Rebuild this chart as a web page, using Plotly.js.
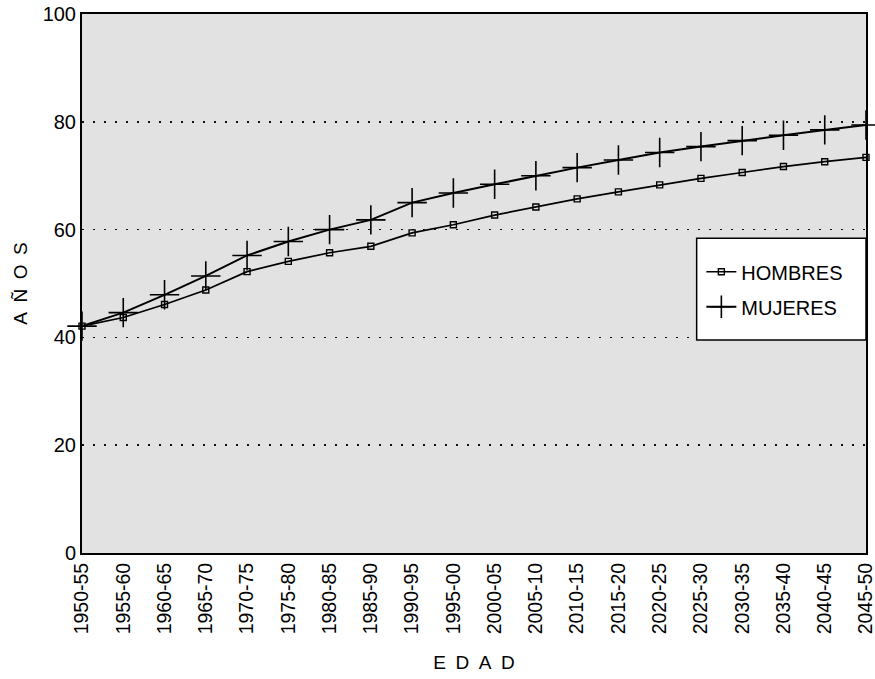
<!DOCTYPE html>
<html>
<head>
<meta charset="utf-8">
<script src="https://cdn.plot.ly/plotly-3.0.1.min.js"></script>
<style>html,body{margin:0;padding:0;background:#fff;}#chart{width:875px;height:679px;}</style>
</head>
<body>
<div id="chart"></div>
<script>
const periods = ["1950-55","1955-60","1960-65","1965-70","1970-75","1975-80","1980-85","1985-90","1990-95","1995-00","2000-05","2005-10","2010-15","2015-20","2020-25","2025-30","2030-35","2035-40","2040-45","2045-50"];
const hombres = [42.1,43.7,46.1,48.8,52.2,54.1,55.7,56.9,59.4,60.9,62.7,64.2,65.7,67.0,68.3,69.5,70.6,71.7,72.6,73.4];
const mujeres = [42.1,44.6,47.9,51.4,55.2,57.8,60.0,61.8,65.0,66.8,68.4,70.0,71.5,72.9,74.3,75.4,76.5,77.5,78.5,79.4];
const yTicks = [0,20,40,60,80,100];

const traces = [
  {x: periods, y: hombres, name: "HOMBRES", type: "scatter", mode: "lines+markers",
   legendgroup: "h",
   line: {color: "#000", width: 1.7},
   marker: {symbol: "square-open", size: 6, color: "#000", line: {width: 1.4, color: "#000"}},
   cliponaxis: false},
  {x: periods, y: mujeres, name: "MUJERES", type: "scatter", mode: "lines+markers",
   legendgroup: "m",
   line: {color: "#000", width: 2},
   marker: {symbol: "cross-thin-open", size: 21, color: "#000", line: {width: 1.6, color: "#000"}},
   cliponaxis: false}
];

const layout = {
  width: 875, height: 679,
  margin: {l: 82, r: 9, t: 14, b: 126},
  paper_bgcolor: "#fff",
  plot_bgcolor: "#e2e2e2",
  font: {family: "Liberation Sans, Arial, sans-serif", color: "#000"},
  showlegend: true,
  legend: {x: 0.79, y: 0.558, xanchor: "left", yanchor: "top",
           bgcolor: "rgba(0,0,0,0)", borderwidth: 0,
           font: {size: 20, color: "#000"}, itemwidth: 30, tracegroupgap: 6},
  shapes: [
    {type: "rect", xref: "paper", yref: "paper", x0: 0.784, x1: 1.0, y0: 0.395, y1: 0.584,
     fillcolor: "#fff", line: {color: "#000", width: 1.5}, layer: "above"}
  ],
  xaxis: {type: "category", range: [0, 19], tickangle: -90,
          tickfont: {size: 19.5}, showgrid: false, ticks: "", ticklen: 0,
          showline: true, linecolor: "#000", linewidth: 2, mirror: true,
          title: {text: "E\u2002D\u2002A\u2002D", font: {size: 19}, standoff: 22}},
  yaxis: {range: [0, 100], tickvals: yTicks, ticktext: yTicks.map(String),
          tickfont: {size: 20}, ticks: "", ticklen: 0,
          showgrid: true, gridcolor: "#111", gridwidth: 1.6, griddash: "2px,9px",
          zeroline: false,
          showline: true, linecolor: "#000", linewidth: 2, mirror: true,
          title: {text: "A\u2002Ñ\u2002O\u2002S", font: {size: 19}, standoff: 10}}
};

Plotly.newPlot("chart", traces, layout, {displayModeBar: false, staticPlot: true});
</script>
</body>
</html>
